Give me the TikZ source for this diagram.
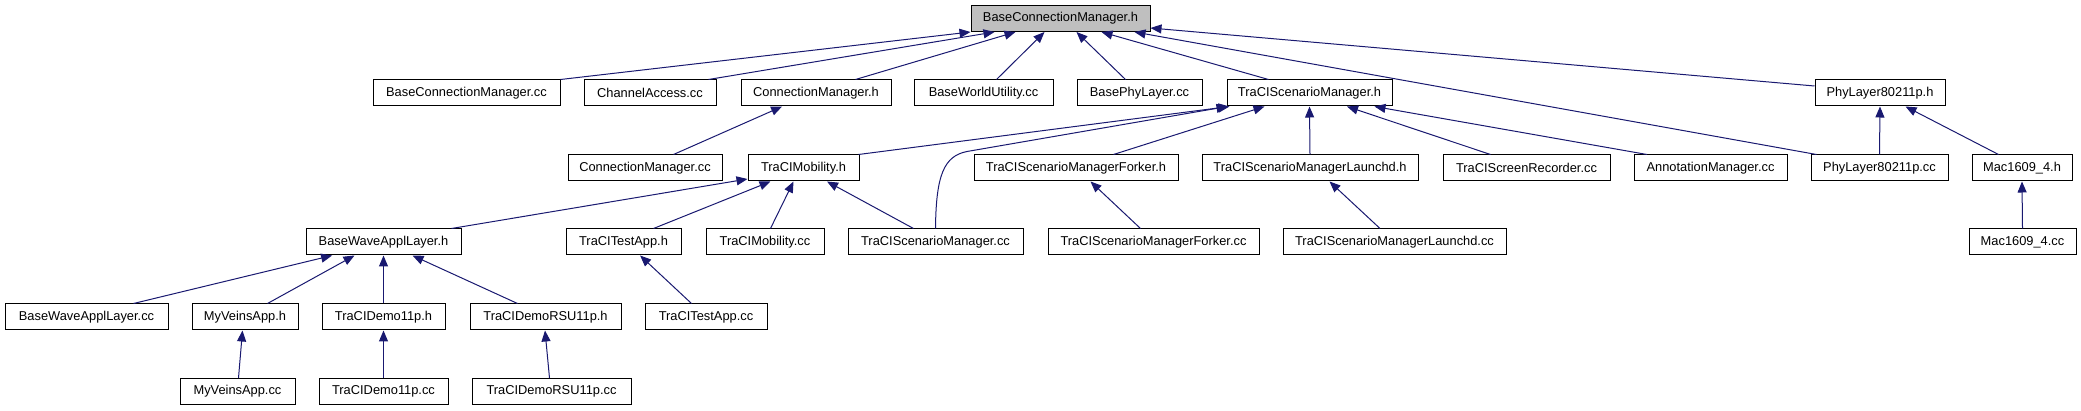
\documentclass[tikz,border=0pt]{standalone}
\usepackage{fontspec}
\setmainfont{Liberation Sans}
\usetikzlibrary{arrows.meta}
\definecolor{edgeblue}{HTML}{191970}
\definecolor{focusgray}{HTML}{BFBFBF}
\tikzset{
  box/.style={draw=black, line width=1pt, fill=white, inner sep=0pt, minimum height=26pt,
              font=\fontsize{12.85}{15}\selectfont, text=black},
  focus/.style={box, fill=focusgray},
  edge/.style={draw=edgeblue, line width=1pt, -{Triangle[length=11pt,width=9pt]}}
}
\begin{document}
\begin{tikzpicture}[x=1pt,y=-1pt]
\useasboundingbox (0,0) rectangle (2081,411);
% row 0
\node[focus, minimum width=179pt] (bcmh) at (1060.5,18.5) {BaseConnectionManager.h};
% row 1
\node[box, minimum width=187pt] (bcmcc) at (466.5,93) {BaseConnectionManager.cc};
\node[box, minimum width=132pt] (chac) at (650,93) {ChannelAccess.cc};
\node[box, minimum width=150pt] (cmh) at (816,93) {ConnectionManager.h};
\node[box, minimum width=139pt] (bwu) at (983.5,93) {BaseWorldUtility.cc};
\node[box, minimum width=125pt] (bpl) at (1139.5,93) {BasePhyLayer.cc};
\node[box, minimum width=165pt] (tsmh) at (1309.5,93) {TraCIScenarioManager.h};
\node[box, minimum width=130pt] (phyh) at (1880,93) {PhyLayer80211p.h};
% row 2
\node[box, minimum width=154pt] (cmcc) at (645,168) {ConnectionManager.cc};
\node[box, minimum width=111pt] (tmh) at (803.5,168) {TraCIMobility.h};
\node[box, minimum width=204pt] (forkh) at (1076,168) {TraCIScenarioManagerForker.h};
\node[box, minimum width=216pt] (launh) at (1310,168) {TraCIScenarioManagerLaunchd.h};
\node[box, minimum width=167pt] (scrrec) at (1526.5,168) {TraCIScreenRecorder.cc};
\node[box, minimum width=153pt] (annot) at (1710.5,168) {AnnotationManager.cc};
\node[box, minimum width=137pt] (phycc) at (1879.5,168) {PhyLayer80211p.cc};
\node[box, minimum width=100pt] (mach) at (2022,168) {Mac1609\_4.h};
% row 3
\node[box, minimum width=155pt] (bwah) at (383.5,242) {BaseWaveApplLayer.h};
\node[box, minimum width=115pt] (testh) at (623.5,242) {TraCITestApp.h};
\node[box, minimum width=118pt] (tmcc) at (765,242) {TraCIMobility.cc};
\node[box, minimum width=175pt] (tsmcc) at (935.5,242) {TraCIScenarioManager.cc};
\node[box, minimum width=211pt] (forkcc) at (1153.5,242) {TraCIScenarioManagerForker.cc};
\node[box, minimum width=223pt] (launcc) at (1394.5,242) {TraCIScenarioManagerLaunchd.cc};
\node[box, minimum width=107pt] (maccc) at (2022.5,242) {Mac1609\_4.cc};
% row 4
\node[box, minimum width=163pt] (bwacc) at (86.5,317) {BaseWaveApplLayer.cc};
\node[box, minimum width=106pt] (myvh) at (245,317) {MyVeinsApp.h};
\node[box, minimum width=123pt] (demoh) at (383.5,317) {TraCIDemo11p.h};
\node[box, minimum width=151pt] (rsuh) at (545.5,317) {TraCIDemoRSU11p.h};
\node[box, minimum width=122pt] (testcc) at (706,317) {TraCITestApp.cc};
% row 5
\node[box, minimum width=115pt] (myvcc) at (237.5,391.5) {MyVeinsApp.cc};
\node[box, minimum width=129pt] (democc) at (383.5,391.5) {TraCIDemo11p.cc};
\node[box, minimum width=159pt] (rsucc) at (551.5,391.5) {TraCIDemoRSU11p.cc};

% edges into BaseConnectionManager.h
\draw[edge] (bcmcc.north east) -- (bcmh.south west);
\draw[edge] ([xshift=125pt]chac.north west) -- ([xshift=24pt]bcmh.south west);
\draw[edge] ([xshift=115pt]cmh.north west) -- ([xshift=45pt]bcmh.south west);
\draw[edge] ([xshift=83pt]bwu.north west) -- ([xshift=74pt]bcmh.south west);
\draw[edge] ([xshift=49pt]bpl.north west) -- ([xshift=106pt]bcmh.south west);
\draw[edge] ([xshift=42pt]tsmh.north west) -- ([xshift=131pt]bcmh.south west);
\draw[edge] ([xshift=6pt]phycc.north west) -- ([xshift=164pt]bcmh.south west);
\draw[edge] ([yshift=7pt]phyh.west) -- ([yshift=-9.5pt]bcmh.east);
% ConnectionManager.h
\draw[edge] ([xshift=106pt]cmcc.north west) -- ([xshift=41.6pt]cmh.south west);
% TraCIScenarioManager.h
\draw[edge] ([xshift=-1pt]tmh.north east) -- ([xshift=3pt]tsmh.south west);
\draw[edge] (tsmcc.north) .. controls (936,175) and (944,156) .. (967,151.5) -- ([xshift=1pt]tsmh.south west);
\draw[edge] ([xshift=140pt]forkh.north west) -- ([xshift=38pt]tsmh.south west);
\draw[edge] (launh.north) -- ([xshift=83pt]tsmh.south west);
\draw[edge] ([xshift=48pt]scrrec.north west) -- ([xshift=120.5pt]tsmh.south west);
\draw[edge] ([xshift=13.5pt]annot.north west) -- ([xshift=148pt]tsmh.south west);
% TraCIMobility.h
\draw[edge] ([xshift=-10pt]bwah.north east) -- ([yshift=-11pt]tmh.west);
\draw[edge] ([xshift=88pt]testh.north west) -- ([xshift=23pt]tmh.south west);
\draw[edge] ([xshift=65pt]tmcc.north west) -- ([xshift=46pt]tmh.south west);
\draw[edge] ([xshift=66pt]tsmcc.north west) -- ([xshift=79.5pt]tmh.south west);
% Forker / Launchd
\draw[edge] ([xshift=93pt]forkcc.north west) -- ([xshift=117pt]forkh.south west);
\draw[edge] ([xshift=97.5pt]launcc.north west) -- ([xshift=128pt]launh.south west);
% BaseWaveApplLayer.h
\draw[edge] ([xshift=129pt]bwacc.north west) -- ([xshift=26.6pt]bwah.south west);
\draw[edge] ([xshift=76pt]myvh.north west) -- ([xshift=49pt]bwah.south west);
\draw[edge] (demoh.north) -- (bwah.south);
\draw[edge] ([xshift=48pt]rsuh.north west) -- ([xshift=107pt]bwah.south west);
% leaves
\draw[edge] ([xshift=59pt]myvcc.north west) -- ([xshift=51pt]myvh.south west);
\draw[edge] (democc.north) -- (demoh.south);
\draw[edge] ([xshift=78pt]rsucc.north west) -- ([xshift=75.5pt]rsuh.south west);
\draw[edge] ([xshift=47pt]testcc.north west) -- ([xshift=74.6pt]testh.south west);
% PhyLayer80211p.h / Mac1609_4
\draw[edge] (phycc.north) -- (phyh.south);
\draw[edge] ([xshift=27pt]mach.north west) -- ([xshift=91pt]phyh.south west);
\draw[edge] (maccc.north) -- (mach.south);
\end{tikzpicture}
\end{document}
